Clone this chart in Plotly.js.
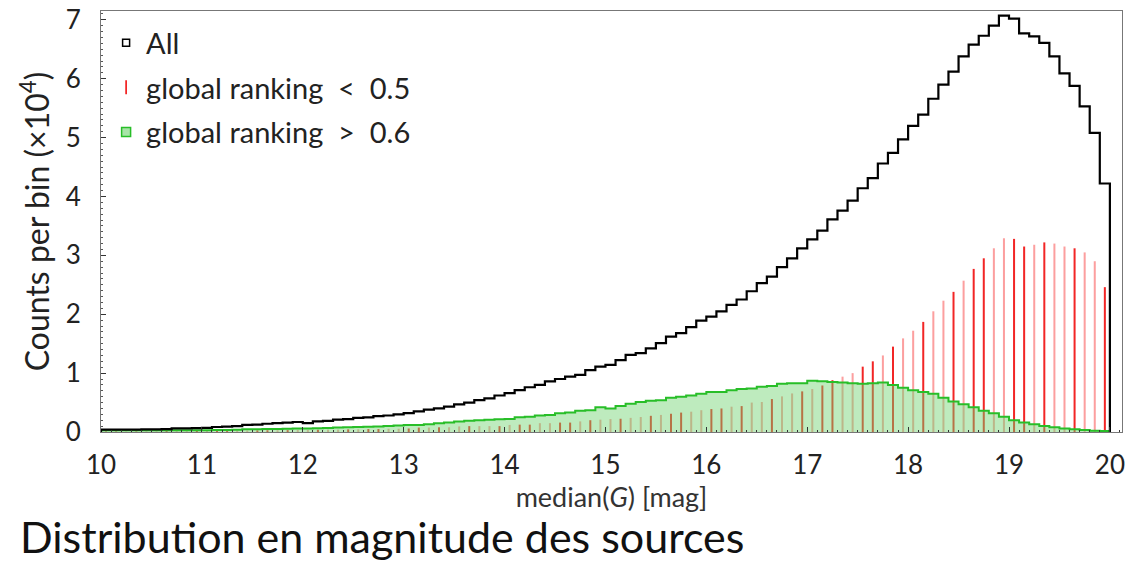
<!DOCTYPE html>
<html>
<head>
<meta charset="utf-8">
<script src="https://cdn.plot.ly/plotly-3.0.1.min.js"></script>
<style>html,body{margin:0;padding:0;background:#fff;} #chart{width:1130px;height:563px;}</style>
</head>
<body>
<div id="chart"></div>
<script>
// Bin edges: 10.0 .. 20.0, width 0.1 mag (100 bins); counts in units of 10^4
const binStart = 10.0;
const binWidth = 0.1;

const allCounts = [
  0.04,0.04,0.04,0.04,0.045,0.045,0.05,0.06,0.06,0.065,
  0.07,0.085,0.09,0.10,0.12,0.125,0.14,0.15,0.16,0.17,
  0.15,0.18,0.19,0.21,0.22,0.24,0.25,0.27,0.28,0.30,
  0.32,0.35,0.38,0.40,0.43,0.47,0.50,0.54,0.57,0.62,
  0.66,0.71,0.76,0.80,0.86,0.90,0.94,0.97,1.05,1.11,
  1.14,1.22,1.31,1.34,1.42,1.51,1.62,1.68,1.78,1.89,
  1.96,2.05,2.16,2.25,2.39,2.53,2.64,2.80,2.95,3.12,
  3.27,3.42,3.61,3.76,3.93,4.14,4.31,4.56,4.74,4.97,
  5.20,5.39,5.66,5.90,6.12,6.38,6.58,6.73,6.90,7.07,
  7.02,6.77,6.72,6.61,6.38,6.09,5.88,5.53,5.08,4.22
];

const lowRankCounts = [
  0.01,0.01,0.01,0.01,0.012,0.012,0.015,0.015,0.015,0.02,
  0.02,0.02,0.022,0.025,0.025,0.028,0.03,0.03,0.032,0.035,
  0.035,0.038,0.04,0.04,0.045,0.045,0.05,0.05,0.055,0.055,
  0.06,0.075,0.075,0.08,0.08,0.095,0.10,0.10,0.10,0.10,
  0.12,0.125,0.125,0.15,0.15,0.16,0.16,0.18,0.20,0.21,
  0.22,0.225,0.24,0.255,0.275,0.29,0.31,0.33,0.345,0.37,
  0.39,0.40,0.43,0.44,0.50,0.51,0.56,0.605,0.655,0.69,
  0.73,0.79,0.88,0.94,1.00,1.11,1.20,1.30,1.45,1.59,
  1.72,1.87,2.05,2.23,2.38,2.57,2.77,2.95,3.12,3.29,
  3.28,3.15,3.18,3.22,3.20,3.15,3.12,3.05,2.90,2.46
];

const highRankCounts = [
  0.03,0.03,0.03,0.03,0.03,0.03,0.03,0.03,0.03,0.03,
  0.03,0.035,0.035,0.04,0.045,0.045,0.05,0.05,0.055,0.06,
  0.06,0.065,0.07,0.075,0.08,0.085,0.09,0.095,0.10,0.11,
  0.12,0.12,0.13,0.15,0.16,0.18,0.19,0.20,0.21,0.215,
  0.22,0.25,0.26,0.28,0.29,0.32,0.33,0.36,0.37,0.42,
  0.40,0.44,0.48,0.51,0.53,0.54,0.58,0.60,0.62,0.65,
  0.68,0.68,0.71,0.73,0.74,0.77,0.78,0.82,0.83,0.83,
  0.87,0.86,0.85,0.84,0.83,0.82,0.83,0.84,0.80,0.75,
  0.71,0.68,0.65,0.58,0.52,0.47,0.42,0.36,0.32,0.26,
  0.20,0.16,0.13,0.10,0.08,0.06,0.045,0.034,0.02,0.017
];

const xTickVals = [10,11,12,13,14,15,16,17,18,19,20];
const yTickVals = [0,1,2,3,4,5,6,7];
const labels = {
  all: "All",
  low: "global ranking\u00A0\u00A0<\u00A0\u00A00.5",
  high: "global ranking\u00A0\u00A0>\u00A0\u00A00.6",
  xTitle: "median(<i>G</i>) [mag]",
  yTitle: "Counts per bin (×10<sup>4</sup>)",
  caption: "Distribution en magnitude des sources"
};

// Build step outlines from bin counts
function stepTrace(counts) {
  const xs = [binStart], ys = [0];
  counts.forEach((v, i) => { xs.push(binStart + i * binWidth); ys.push(v); });
  const end = binStart + counts.length * binWidth;
  xs.push(end); ys.push(counts[counts.length - 1]);
  xs.push(end); ys.push(0);
  return {x: xs, y: ys};
}
const centers = lowRankCounts.map((_, i) => binStart + (i + 0.5) * binWidth);
const redColors = centers.map((_, i) => (i % 3 === 0 || i % 5 === 1) ? 'rgba(240,0,0,0.85)' : 'rgba(250,80,80,0.55)');

const sAll = stepTrace(allCounts);
const sHigh = stepTrace(highRankCounts);

const font = "Lato, 'DejaVu Sans', sans-serif";

const traces = [
  {
    type: 'scatter', mode: 'lines', x: sHigh.x, y: sHigh.y,
    line: {shape: 'hv', color: 'rgb(40,190,40)', width: 2},
    fill: 'tozeroy', fillcolor: 'rgba(110,210,110,0.45)',
    showlegend: false, hoverinfo: 'skip'
  },
  {
    type: 'bar', x: centers, y: lowRankCounts, width: 0.02,
    marker: {color: redColors, line: {width: 0}},
    showlegend: false, hoverinfo: 'skip'
  },
  {
    type: 'scatter', mode: 'lines', x: sAll.x, y: sAll.y,
    line: {shape: 'hv', color: '#000', width: 2.2},
    showlegend: false, hoverinfo: 'skip'
  },
  // legend entries
  {type: 'scatter', mode: 'markers', x: [null], y: [null], name: labels.all, legendgroup: 'a',
   marker: {symbol: 'square-open', size: 7, color: '#000', line: {width: 1.5, color: '#000'}}},
  {type: 'scatter', mode: 'markers', x: [null], y: [null], name: labels.low, legendgroup: 'b',
   marker: {symbol: 'line-ns', size: 10, color: 'red', line: {width: 1.5, color: 'rgb(240,0,0)'}}},
  {type: 'scatter', mode: 'markers', x: [null], y: [null], name: labels.high, legendgroup: 'c',
   marker: {symbol: 'square', size: 9, color: 'rgba(110,210,110,0.6)', line: {width: 1.5, color: 'rgb(40,190,40)'}}}
];

const layout = {
  width: 1130, height: 563,
  margin: {l: 101, r: 8, t: 11, b: 131},
  paper_bgcolor: '#fff', plot_bgcolor: '#fff',
  font: {family: font, color: '#222'},
  barmode: 'overlay',
  xaxis: {
    range: [10, 20.12], tickvals: xTickVals, ticks: 'inside', ticklen: 5, tickcolor: '#333',
    showline: true, linecolor: '#777', linewidth: 1, mirror: true, showgrid: false, zeroline: false,
    tickfont: {size: 26, family: font, color: '#222'}, ticklabelstandoff: 10,
    minor: {dtick: 0.1, ticks: 'inside', ticklen: 2, tickcolor: '#333', showgrid: false},
    title: {text: labels.xTitle, font: {size: 27, family: font, color: '#333'}, standoff: 3}
  },
  yaxis: {
    range: [0, 7.15], tickvals: yTickVals, ticks: 'inside', ticklen: 5, tickcolor: '#333',
    showline: true, linecolor: '#777', linewidth: 1, mirror: true, showgrid: false, zeroline: false,
    tickfont: {size: 26, family: font, color: '#222'}, ticklabelstandoff: 14,
    minor: {dtick: 0.1, ticks: 'inside', ticklen: 2, tickcolor: '#555', showgrid: false},
    title: {text: labels.yTitle, font: {size: 32, family: font, color: '#222'}, standoff: 6}
  },
  legend: {
    x: 0.005, y: 0.985, xanchor: 'left', yanchor: 'top',
    bgcolor: 'rgba(0,0,0,0)', font: {size: 29, family: font, color: '#222'},
    traceorder: 'grouped', tracegroupgap: 4, itemwidth: 30
  },
  annotations: [{
    xref: 'paper', yref: 'paper', x: -0.081, y: -0.248, xanchor: 'left', yanchor: 'middle',
    text: labels.caption, showarrow: false,
    font: {size: 43, family: font, color: '#111'}
  }]
};

Plotly.newPlot('chart', traces, layout, {displayModeBar: false, staticPlot: true});
</script>
</body>
</html>
